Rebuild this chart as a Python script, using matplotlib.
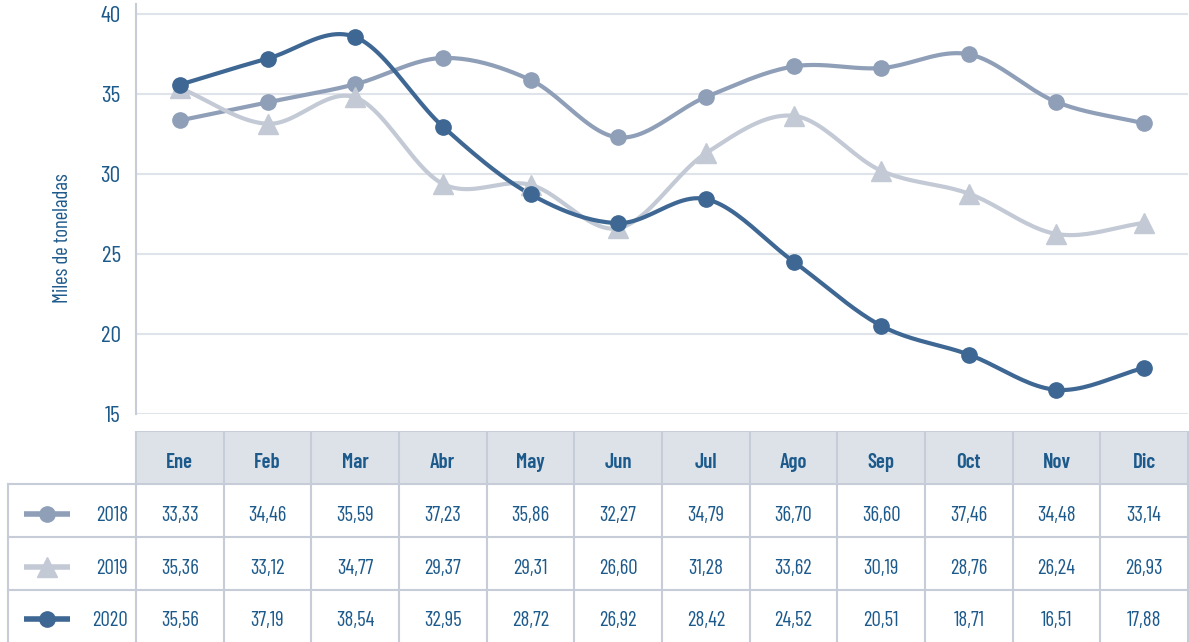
import matplotlib
matplotlib.use('Agg')
import matplotlib.pyplot as plt
from matplotlib.patches import Rectangle
import numpy as np

meses = ['Ene', 'Feb', 'Mar', 'Abr', 'May', 'Jun', 'Jul', 'Ago', 'Sep', 'Oct', 'Nov', 'Dic']
anios = ['2018', '2019', '2020']
v2018 = [33.33, 34.46, 35.59, 37.23, 35.86, 32.27, 34.79, 36.70, 36.60, 37.46, 34.48, 33.14]
v2019 = [35.36, 33.12, 34.77, 29.37, 29.31, 26.60, 31.28, 33.62, 30.19, 28.76, 26.24, 26.93]
v2020 = [35.56, 37.19, 38.54, 32.95, 28.72, 26.92, 28.42, 24.52, 20.51, 18.71, 16.51, 17.88]
yticks = [15, 20, 25, 30, 35, 40]

colores = ['#8f9fb8', '#c3cad5', '#3e6793']
marcadores = ['o', '^', 'o']
azul_txt = '#1d5a8c'
borde = '#c6cdd8'

plt.rcParams['font.family'] = ['Barlow Condensed', 'DejaVu Sans']

W, H = 1189, 642


def px_axes(fig, x0, y0, x1, y1):
    return fig.add_axes([x0 / W, 1 - y1 / H, (x1 - x0) / W, (y1 - y0) / H])


def suavizar(x, y, n=24):
    # curva catmull-rom para dibujar la linea suave
    x = np.asarray(x, float)
    y = np.asarray(y, float)
    px = np.concatenate([[2 * x[0] - x[1]], x, [2 * x[-1] - x[-2]]])
    py = np.concatenate([[2 * y[0] - y[1]], y, [2 * y[-1] - y[-2]]])
    xs, ys = [], []
    t = np.linspace(0, 1, n)
    for i in range(1, len(px) - 2):
        for p, out in ((px, xs), (py, ys)):
            p0, p1, p2, p3 = p[i - 1], p[i], p[i + 1], p[i + 2]
            c = 0.5 * ((2 * p1) + (-p0 + p2) * t + (2 * p0 - 5 * p1 + 4 * p2 - p3) * t ** 2
                       + (-p0 + 3 * p1 - 3 * p2 + p3) * t ** 3)
            out.extend(c)
    return np.array(xs), np.array(ys)


fig = plt.figure(figsize=(W / 100, H / 100), dpi=100)

x_izq, x_der = 136, 1188
ax = px_axes(fig, x_izq, 4, x_der, 414)
x = np.arange(len(meses))
for vals, col, mk in zip([v2018, v2019, v2020], colores, marcadores):
    sx, sy = suavizar(x, vals)
    ax.plot(sx, sy, color=col, lw=3, solid_capstyle='round', zorder=3)
    ax.plot(x, vals, ls='none', marker=mk, ms=11 if mk == 'o' else 14.5, color=col, zorder=4)

ax.set_xlim(-0.5, len(meses) - 0.5)
ax.set_ylim(15, 40.6)
ax.set_yticks(yticks)
ax.set_yticklabels([str(t) for t in yticks], fontsize=17, color=azul_txt)
ax.set_xticks([])
ax.grid(axis='y', color='#dfe3ea', lw=1.5)
ax.set_axisbelow(True)
for s in ['top', 'right', 'bottom']:
    ax.spines[s].set_visible(False)
ax.spines['left'].set_color(borde)
ax.spines['left'].set_linewidth(1.5)
ax.tick_params(axis='y', length=0, pad=11)
ax.set_ylabel('Miles de toneladas', fontsize=15, color=azul_txt)
ax.yaxis.set_label_coords(-0.061, 0.43)

# tabla de datos
tx = px_axes(fig, 0, 431, W, H)
tx.set_xlim(0, W)
tx.set_ylim(H, 431)
tx.axis('off')

ancho = (x_der - x_izq) / len(meses)
filas = [431, 484, 537, 590, 642]
tx.add_patch(Rectangle((x_izq, filas[0]), x_der - x_izq, filas[1] - filas[0],
                       facecolor='#dde2e9', edgecolor='none'))
lw = 1.5
tx.plot([x_izq, x_der], [filas[0], filas[0]], color=borde, lw=lw)
for yy in filas[1:4]:
    tx.plot([8, x_der], [yy, yy], color=borde, lw=lw)
tx.plot([8, 8], [filas[1], H], color=borde, lw=lw)
for i in range(len(meses) + 1):
    xx = x_izq + i * ancho
    tx.plot([xx, xx], [filas[0], H], color=borde, lw=lw)

for i, m in enumerate(meses):
    tx.text(x_izq + (i + 0.5) * ancho, (filas[0] + filas[1]) / 2 + 5, m, ha='center', va='center',
            fontsize=15, fontweight=600, color=azul_txt)

for r, (anio, vals, col, mk) in enumerate(zip(anios, [v2018, v2019, v2020], colores, marcadores)):
    yc = (filas[r + 1] + filas[r + 2]) / 2
    tx.plot([24, 70], [yc + 3, yc + 3], color=col, lw=4, solid_capstyle='butt')
    tx.plot([47], [yc + 3], marker=mk, ms=11 if mk == 'o' else 14.5, color=col)
    tx.text(128, yc + 5, anio, ha='right', va='center', fontsize=15, color=azul_txt)
    for i, v in enumerate(vals):
        tx.text(x_izq + (i + 0.5) * ancho, yc + 5, f'{v:.2f}'.replace('.', ','), ha='center',
                va='center', fontsize=15, color=azul_txt)

fig.savefig('out.png', dpi=100)
